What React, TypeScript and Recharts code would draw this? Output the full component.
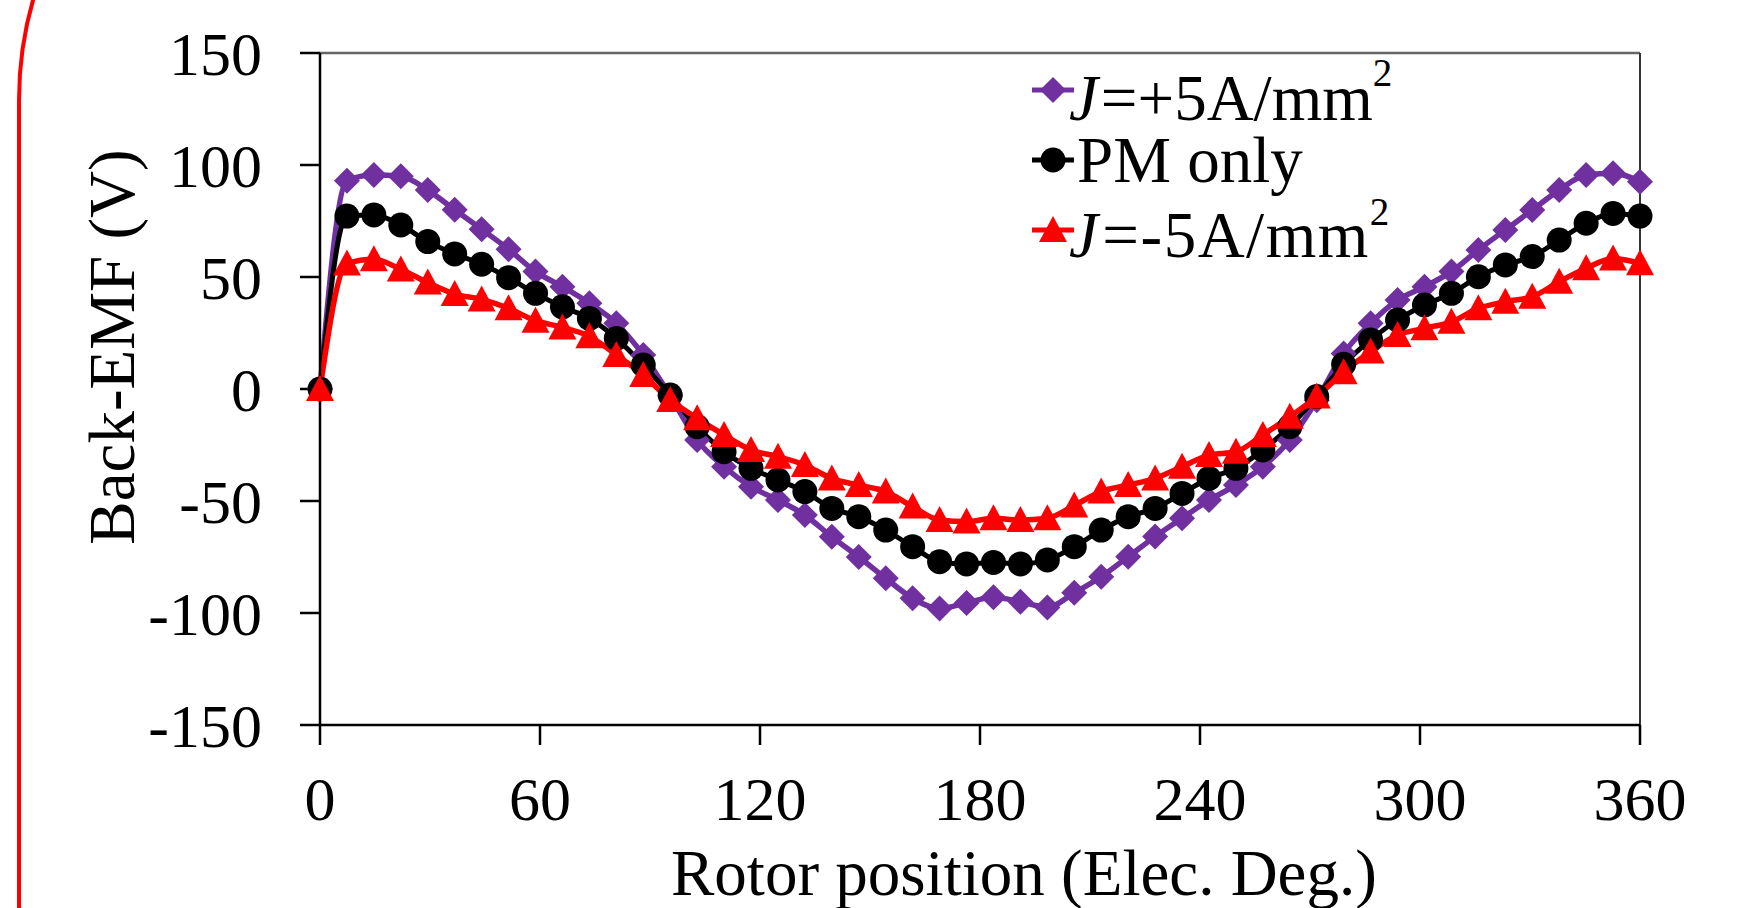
import React from "react";
import {
  LineChart,
  Line,
  XAxis,
  YAxis,
  ReferenceLine,
} from "recharts";

// rotor position, electrical degrees (50 samples over one period)
const angles = [
  0, 7.35, 14.69, 22.04, 29.39, 36.73, 44.08, 51.43, 58.78, 66.12,
  73.47, 80.82, 88.16, 95.51, 102.86, 110.2, 117.55, 124.9, 132.24, 139.59,
  146.94, 154.29, 161.63, 168.98, 176.33, 183.67, 191.02, 198.37, 205.71, 213.06,
  220.41, 227.76, 235.1, 242.45, 249.8, 257.14, 264.49, 271.84, 279.18, 286.53,
  293.88, 301.22, 308.57, 315.92, 323.27, 330.61, 337.96, 345.31, 352.65, 360,
];

// J = +5 A/mm2
const plus5 = [
  0, 93, 95.5, 95, 88.8, 80, 71.3, 62.4, 52.4, 45.7,
  38.3, 29.3, 15.2, -3, -22.8, -34.7, -43.6, -49.6, -56.3, -66,
  -75, -84.5, -93.4, -98, -95.5, -93, -95, -97.5, -91, -83.8,
  -74.9, -65.9, -57.7, -49.6, -42.9, -34.7, -22.8, -5, 15.9, 29.3,
  39.7, 45.7, 52.4, 62.1, 71, 79.9, 88.8, 95.5, 96.3, 92.5,
];

// PM only
const pmOnly = [
  0, 77.2, 77.7, 73.2, 65.8, 60.3, 55.7, 49.7, 42.7, 36.7,
  31.5, 22.6, 10.7, -2.7, -16.8, -28, -35.4, -40.6, -45.8, -53.3,
  -57, -63, -70.4, -77.1, -78.1, -77.4, -78.1, -76.3, -70.4, -63,
  -57, -53.3, -46.6, -39.9, -35.4, -27.2, -16.8, -3.4, 11, 21.9,
  30.8, 37.5, 42.7, 50.1, 55.4, 59.1, 66.5, 74, 78.4, 77.2,
];

// J = -5 A/mm2
const minus5 = [
  0, 56, 57.9, 53.4, 47.5, 42.4, 40, 36, 30.5, 27.5,
  23.5, 15.2, 6.3, -4.9, -13.1, -20.5, -27.2, -30.2, -33.9, -40,
  -42.9, -45.8, -52.5, -58.5, -59.2, -57.7, -58.5, -57.7, -52, -45.8,
  -42.9, -39.9, -34.7, -29.5, -28, -20.5, -12.4, -3.4, 7.5, 16.7,
  24.1, 27.1, 30, 36, 39, 41.2, 47.9, 53.9, 58.3, 56.1,
];

const xTicks = [0, 60, 120, 180, 240, 300, 360];
const yTicks = [-150, -100, -50, 0, 50, 100, 150];

const data = angles.map((a, i) => ({
  angle: a,
  plus5: plus5[i],
  pm: pmOnly[i],
  minus5: minus5[i],
}));

const PURPLE = "#7030a0";
const RED = "#ff0000";
const FONT = '"Liberation Serif", "Times New Roman", serif';

const diamond = (cx: number, cy: number, fill: string, key?: string) => (
  <path
    key={key}
    d={`M${cx},${cy - 13} L${cx + 13},${cy} L${cx},${cy + 13} L${cx - 13},${cy} Z`}
    fill={fill}
  />
);

const circle = (cx: number, cy: number, fill: string, key?: string) => (
  <circle key={key} cx={cx} cy={cy} r={12.5} fill={fill} />
);

const triangle = (cx: number, cy: number, fill: string, key?: string) => (
  <path
    key={key}
    d={`M${cx},${cy - 14} L${cx + 14},${cy + 12} L${cx - 14},${cy + 12} Z`}
    fill={fill}
  />
);

export default function App() {
  return (
    <div
      style={{
        position: "absolute",
        left: 0,
        top: 0,
        width: 1743,
        height: 908,
        overflow: "hidden",
        background: "#fff",
      }}
    >
      {/* red rounded frame on the left edge */}
      <div
        style={{
          position: "absolute",
          left: 17,
          top: -264,
          width: 2000,
          height: 2000,
          border: `4px solid ${RED}`,
          borderTopLeftRadius: 364,
          boxSizing: "border-box",
        }}
      />
      <LineChart
        width={1743}
        height={908}
        data={data}
        margin={{ top: 53, right: 103, bottom: 0, left: 0 }}
        style={{ position: "absolute", left: 0, top: 0 }}
      >
        <XAxis
          dataKey="angle"
          type="number"
          domain={[0, 360]}
          ticks={xTicks}
          height={183}
          tickSize={20}
          tickMargin={31}
          axisLine={{ stroke: "#000", strokeWidth: 2.5 }}
          tickLine={{ stroke: "#000", strokeWidth: 2.5 }}
          tick={{ fontSize: 62, fill: "#000", fontFamily: FONT }}
          interval={0}
        />
        <YAxis
          type="number"
          domain={[-150, 150]}
          ticks={yTicks}
          width={320}
          tickSize={20}
          tickMargin={38}
          axisLine={{ stroke: "#000", strokeWidth: 2.5 }}
          tickLine={{ stroke: "#000", strokeWidth: 2.5 }}
          tick={{ fontSize: 62, fill: "#000", fontFamily: FONT }}
          interval={0}
        />
        <ReferenceLine y={150} stroke="#666" strokeWidth={2.5} />
        <ReferenceLine x={360} stroke="#333" strokeWidth={2} />
        <Line
          type="monotone"
          dataKey="plus5"
          stroke={PURPLE}
          strokeWidth={5.5}
          isAnimationActive={false}
          activeDot={false}
          dot={(p: any) => diamond(p.cx, p.cy, PURPLE, `dp-${p.index}`)}
        />
        <Line
          type="monotone"
          dataKey="pm"
          stroke="#000"
          strokeWidth={5}
          isAnimationActive={false}
          activeDot={false}
          dot={(p: any) => circle(p.cx, p.cy, "#000", `dc-${p.index}`)}
        />
        <Line
          type="monotone"
          dataKey="minus5"
          stroke={RED}
          strokeWidth={5.5}
          isAnimationActive={false}
          activeDot={false}
          dot={(p: any) => triangle(p.cx, p.cy, RED, `dt-${p.index}`)}
        />
      </LineChart>

      {/* titles and legend */}
      <svg
        width={1743}
        height={908}
        style={{ position: "absolute", left: 0, top: 0, pointerEvents: "none" }}
        fontFamily={FONT}
      >
        <text
          transform="translate(134,347) rotate(-90)"
          textAnchor="middle"
          fontSize={65}
          fill="#000"
        >
          Back-EMF (V)
        </text>
        <text x={671} y={895} fontSize={65} fill="#000">
          Rotor position (Elec. Deg.)
        </text>

        <line x1={1032} y1={90} x2={1074} y2={90} stroke={PURPLE} strokeWidth={5} />
        {diamond(1053, 90, PURPLE)}
        <text x={1069} y={120} fontSize={65} fill="#000">
          <tspan fontStyle="italic">J</tspan>
          <tspan dx={3}>=+5A/mm</tspan>
          <tspan dy={-34} fontSize={39}>2</tspan>
        </text>

        <line x1={1032} y1={160} x2={1074} y2={160} stroke="#000" strokeWidth={5} />
        {circle(1053, 160, "#000")}
        <text x={1077} y={182} fontSize={65} fill="#000">
          PM only
        </text>

        <line x1={1032} y1={230} x2={1074} y2={230} stroke={RED} strokeWidth={5} />
        {triangle(1053, 230, RED)}
        <text x={1069} y={257} fontSize={65} fill="#000" letterSpacing={1.5}>
          <tspan fontStyle="italic">J</tspan>
          <tspan dx={3}>=-5A/mm</tspan>
          <tspan dy={-32} fontSize={39}>2</tspan>
        </text>
      </svg>
    </div>
  );
}
